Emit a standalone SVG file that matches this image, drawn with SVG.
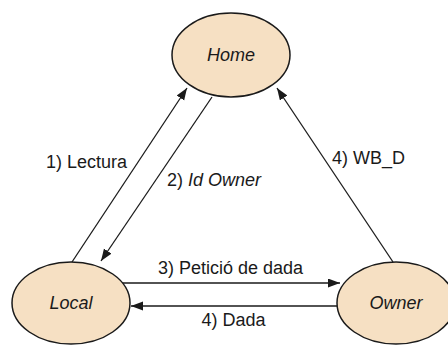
<svg xmlns="http://www.w3.org/2000/svg" width="448" height="345" viewBox="0 0 448 345">
<style>
.node{fill:#F6E0C3;stroke:#1a1a1a;stroke-width:1.5}
.nl{font-family:"Liberation Sans",Arial,sans-serif;font-size:18px;font-style:italic;fill:#1a1a1a;text-anchor:middle}
.lbl{font-family:"Liberation Sans",Arial,sans-serif;font-size:18px;fill:#1a1a1a}
.c{stroke:#1a1a1a;stroke-width:1.3;fill:none;marker-end:url(#ah)}
</style>
<defs>
<marker id="ah" markerUnits="userSpaceOnUse" markerWidth="13" markerHeight="10" refX="12" refY="4.5" orient="auto">
<path d="M0,0 L12,4.5 L0,9 z" fill="#1a1a1a"/>
</marker>
</defs>
<rect width="448" height="345" fill="#fff"/>
<g id="connectors">
<line class="c" x1="72" y1="262" x2="187" y2="88"/>
<line class="c" x1="212" y1="97" x2="101" y2="261"/>
<line class="c" x1="393" y1="262" x2="277" y2="88"/>
<line class="c" x1="122" y1="283" x2="340" y2="283"/>
<line class="c" x1="337" y1="306" x2="131" y2="306"/>
<text class="lbl" x="127" y="168" text-anchor="end">1) Lectura</text>
<text class="lbl" x="167" y="186">2) <tspan font-style="italic">Id Owner</tspan></text>
<text class="lbl" x="332" y="164">4) WB_D</text>
<text class="lbl" x="230.5" y="274" text-anchor="middle">3) Petició de dada</text>
<text class="lbl" x="233.5" y="326" text-anchor="middle">4) Dada</text>
</g>
<g id="home">
<ellipse class="node" cx="231" cy="55" rx="59" ry="42"/>
<text class="nl" x="231" y="61">Home</text>
</g>
<g id="local">
<ellipse class="node" cx="71" cy="303" rx="59" ry="41"/>
<text class="nl" x="71" y="309">Local</text>
</g>
<g id="owner">
<ellipse class="node" cx="396" cy="303" rx="59" ry="41"/>
<text class="nl" x="396" y="309">Owner</text>
</g>
</svg>
